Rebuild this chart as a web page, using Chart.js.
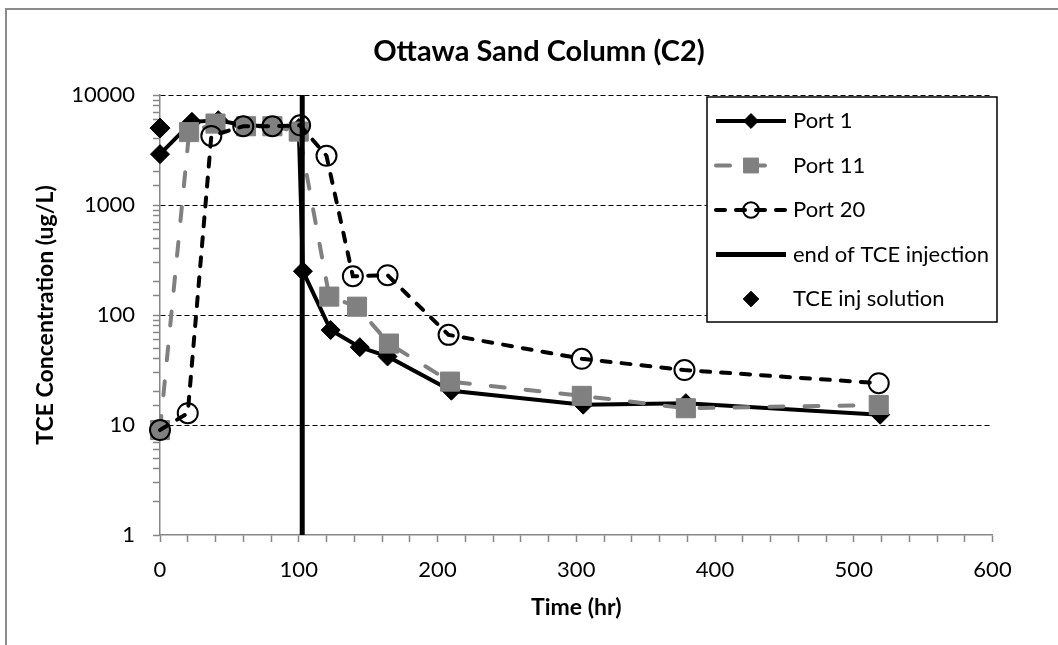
<!DOCTYPE html>
<html>
<head>
<meta charset="utf-8">
<script src="https://cdn.jsdelivr.net/npm/chart.js@4.4.1/dist/chart.umd.min.js"></script>
<style>
  html, body { margin: 0; padding: 0; background: #fff; }
  #wrap { width: 1058px; height: 645px; }
</style>
</head>
<body>
<div id="wrap"><canvas id="chart" width="1058" height="645"></canvas></div>
<script>
// values
var port1Time = [0, 23, 42, 60, 80, 100, 103, 123, 144, 164, 210, 305, 379, 519];
var port1Conc = [2900, 5700, 5900, 5300, 5200, 5000, 250, 73, 51, 42, 20.5, 15.3, 15.8, 12.4];

var port11Time = [0, 21, 40, 62, 81, 100, 122, 142, 165, 209, 304, 379, 518];
var port11Conc = [9, 4600, 5500, 5200, 5200, 4650, 147, 119, 55, 24.8, 18.4, 14.2, 15.2];

var port20Time = [0, 20, 37, 60, 81, 101, 120, 139, 164, 208, 304, 378, 518];
var port20Conc = [9, 12.8, 4250, 5200, 5200, 5300, 2800, 225, 230, 66, 40, 31.6, 24];

var injEndTime = 102.5;
var concRange = [1, 10000];

var injSolTime = [0];
var injSolConc = [5000];

var FONT = 'Lato';

function pts(xs, ys) {
  return xs.map(function(x, i) { return { x: x, y: ys[i] }; });
}

function isPow10(v) {
  var l = Math.log10(v);
  return Math.abs(l - Math.round(l)) < 1e-9;
}

// frame, title and the boxed legend inside the plot
var extras = {
  id: 'extras',
  beforeDraw: function(chart) {
    var ctx = chart.ctx;
    ctx.save();
    ctx.fillStyle = '#fff';
    ctx.fillRect(0, 0, chart.width, chart.height);
    ctx.strokeStyle = '#8c8c8c';
    ctx.lineWidth = 2;
    ctx.strokeRect(6, 9, 1200, 1200);
    ctx.restore();
  },
  afterDraw: function(chart) {
    var ctx = chart.ctx;
    ctx.save();
    ctx.fillStyle = '#000';
    ctx.font = 'bold 29px ' + FONT;
    ctx.textAlign = 'center';
    ctx.textBaseline = 'middle';
    ctx.fillText('Ottawa Sand Column (C2)', 539, 52);

    var box = { left: 707, top: 97, right: 997, bottom: 322 };
    ctx.fillStyle = '#fff';
    ctx.fillRect(box.left, box.top, box.right - box.left, box.bottom - box.top);
    ctx.strokeStyle = '#000';
    ctx.lineWidth = 1.5;
    ctx.strokeRect(box.left, box.top, box.right - box.left, box.bottom - box.top);

    chart.data.datasets.forEach(function(ds, i) {
      var y = box.top + 24 + i * 44.5;
      if (ds.showLine !== false) {
        ctx.save();
        ctx.setLineDash(ds.borderDash || []);
        ctx.lineCap = ds.borderCapStyle || 'butt';
        ctx.lineWidth = ds.borderWidth;
        ctx.strokeStyle = ds.borderColor;
        ctx.beginPath();
        ctx.moveTo(716, y);
        ctx.lineTo(786, y);
        ctx.stroke();
        ctx.restore();
      }
      if (ds.pointRadius > 0) {
        ctx.save();
        ctx.setLineDash([]);
        ctx.fillStyle = ds.backgroundColor;
        ctx.strokeStyle = ds.borderColor;
        ctx.lineWidth = ds.pointBorderWidth || 1;
        Chart.helpers.drawPoint(ctx, {
          pointStyle: ds.pointStyle,
          radius: ds.pointRadius * 0.78,
          rotation: 0,
          borderWidth: ds.pointBorderWidth || 1
        }, 751, y);
        ctx.restore();
      }
      ctx.fillStyle = '#000';
      ctx.font = '22px ' + FONT;
      ctx.textAlign = 'left';
      ctx.textBaseline = 'middle';
      ctx.fillText(ds.label, 793, y);
    });
    ctx.restore();
  }
};

var ctx = document.getElementById('chart').getContext('2d');
var chart = new Chart(ctx, {
  type: 'line',
  data: {
    datasets: [{
      label: 'Port 1',
      data: pts(port1Time, port1Conc),
      borderColor: '#000',
      backgroundColor: '#000',
      borderWidth: 4,
      pointStyle: 'rectRot',
      pointRadius: 9.5,
      pointBorderWidth: 1,
      clip: false,
      order: 5
    }, {
      label: 'Port 11',
      data: pts(port11Time, port11Conc),
      borderColor: '#808080',
      backgroundColor: '#808080',
      borderWidth: 4,
      borderDash: [14, 21],
      borderCapStyle: 'round',
      pointStyle: 'rect',
      pointRadius: 13.5,
      pointBorderWidth: 1,
      clip: false,
      order: 4
    }, {
      label: 'Port 20',
      data: pts(port20Time, port20Conc),
      borderColor: '#000',
      backgroundColor: 'rgba(0,0,0,0)',
      borderWidth: 4,
      borderDash: [9, 11],
      borderCapStyle: 'round',
      pointStyle: 'circle',
      pointRadius: 10,
      pointBorderWidth: 2,
      clip: false,
      order: 3
    }, {
      label: 'end of TCE injection',
      data: [{ x: injEndTime, y: concRange[0] }, { x: injEndTime, y: concRange[1] }],
      borderColor: '#000',
      backgroundColor: '#000',
      borderWidth: 5,
      pointRadius: 0,
      order: 2
    }, {
      label: 'TCE inj solution',
      data: pts(injSolTime, injSolConc),
      showLine: false,
      borderColor: '#000',
      backgroundColor: '#000',
      pointStyle: 'rectRot',
      pointRadius: 10,
      pointBorderWidth: 1,
      clip: false,
      order: 1
    }]
  },
  options: {
    responsive: false,
    animation: false,
    layout: { padding: { top: 95, right: 65.5, left: 0, bottom: 0 } },
    plugins: {
      legend: { display: false },
      tooltip: { enabled: false },
      title: { display: false }
    },
    scales: {
      x: {
        type: 'linear',
        min: 0,
        max: 600,
        afterFit: function(s) { s.height = 110; },
        ticks: {
          stepSize: 20,
          autoSkip: false,
          maxRotation: 0,
          padding: 15,
          color: '#000',
          font: { family: FONT, size: 22 },
          callback: function(v) { return v % 100 === 0 ? String(v) : ''; }
        },
        grid: { drawOnChartArea: false, tickLength: 7, tickColor: '#868686', tickWidth: 1.5 },
        border: { color: '#868686', width: 1.5 },
        title: {
          display: true,
          text: 'Time (hr)',
          color: '#000',
          font: { family: FONT, size: 23, weight: 'bold' },
          padding: { bottom: 24 }
        }
      },
      y: {
        type: 'logarithmic',
        min: concRange[0],
        max: concRange[1],
        afterFit: function(s) { s.width = 160; },
        ticks: {
          autoSkip: false,
          padding: 18,
          color: '#000',
          font: { family: FONT, size: 22 },
          callback: function(v) { return isPow10(v) ? String(Math.round(v)) : ''; }
        },
        grid: {
          color: function(c) {
            return (c.tick && isPow10(c.tick.value) && c.tick.value > 1) ? '#000' : 'rgba(0,0,0,0)';
          },
          lineWidth: 1,
          tickLength: 7,
          tickColor: '#868686',
          tickWidth: 1.5
        },
        border: { color: '#868686', width: 1.5, dash: [5, 3] },
        title: {
          display: true,
          text: 'TCE Concentration (ug/L)',
          color: '#000',
          font: { family: FONT, size: 23, weight: 'bold' },
          padding: { top: 32 }
        }
      }
    }
  },
  plugins: [extras]
});
</script>
</body>
</html>
